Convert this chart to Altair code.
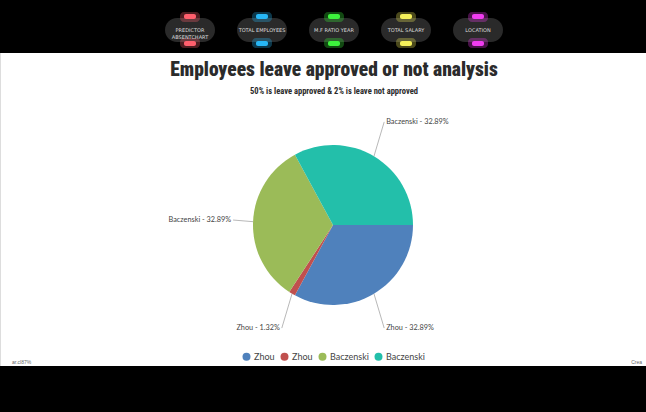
import math
import altair as alt
import pandas as pd

TITLE = "Employees leave approved or not analysis"
SUBTITLE = "50% is leave approved & 2% is leave not approved"

NAMES = ["Zhou", "Zhou", "Baczenski", "Baczenski"]
PERCENTS = [32.89, 1.32, 32.89, 32.89]
COLORS = ["#4F81BC", "#C0504E", "#9BBB58", "#23BFAA"]

BUTTON_LABELS = ["PREDICTOR\nABSENTCHART", "TOTAL EMPLOYEES", "M.F RATIO YEAR", "TOTAL SALARY", "LOCATION"]
BUTTON_COLORS = ["#ff5f6d", "#27b6f5", "#3df23d", "#f5f05a", "#f03cf0"]

FOOT_LEFT = "ar.cl87%"
FOOT_RIGHT = "Crea"

W, H = 646, 412
CX, CY, R = 333, 225, 80
RX, RY = 100, 120

keys = [f"{n}|{i}" for i, n in enumerate(NAMES)]
pie_df = pd.DataFrame({
    "key": keys,
    "name": NAMES,
    "pct": PERCENTS,
    "idx": list(range(len(NAMES))),
})
pie_df["label"] = [f"{n} - {p:.2f}%" for n, p in zip(NAMES, PERCENTS)]

one = pd.DataFrame({"a": [0]})

top_band = alt.Chart(one).mark_rect(color="black").encode(
    x=alt.value(0), x2=alt.value(W), y=alt.value(0), y2=alt.value(53))
bottom_band = alt.Chart(one).mark_rect(color="black").encode(
    x=alt.value(0), x2=alt.value(W), y=alt.value(366), y2=alt.value(H))

btn_df = pd.DataFrame({"label": BUTTON_LABELS, "col": BUTTON_COLORS, "i": list(range(len(BUTTON_LABELS)))})
btn = alt.Chart(btn_df).transform_calculate(bx="190 + 72*datum.i").transform_calculate(
    p0="datum.bx - 25", p1="datum.bx + 25",
    g0="datum.bx - 6", g1="datum.bx + 6",
    h0="datum.bx - 10", h1="datum.bx + 10")
pill = btn.mark_rect(cornerRadius=12, color="#3c3c3c", opacity=0.7).encode(
    x=alt.X("p0:Q", scale=None), x2="p1:Q", y=alt.value(18), y2=alt.value(42))
glow_top_soft = btn.mark_rect(opacity=0.3, cornerRadius=4).encode(
    x=alt.X("h0:Q", scale=None), x2="h1:Q", y=alt.value(12), y2=alt.value(22),
    fill=alt.Fill("col:N", scale=None, legend=None))
glow_top = btn.mark_rect(cornerRadius=2).encode(
    x=alt.X("g0:Q", scale=None), x2="g1:Q", y=alt.value(14), y2=alt.value(19),
    fill=alt.Fill("col:N", scale=None, legend=None))
glow_bot_soft = btn.mark_rect(opacity=0.3, cornerRadius=4).encode(
    x=alt.X("h0:Q", scale=None), x2="h1:Q", y=alt.value(38), y2=alt.value(48),
    fill=alt.Fill("col:N", scale=None, legend=None))
glow_bot = btn.mark_rect(cornerRadius=2).encode(
    x=alt.X("g0:Q", scale=None), x2="g1:Q", y=alt.value(41), y2=alt.value(46),
    fill=alt.Fill("col:N", scale=None, legend=None))
btn_text = btn.mark_text(fontSize=5, color="#dddddd", lineBreak="\n", font="DejaVu Sans").encode(
    x=alt.X("bx:Q", scale=None), y=alt.value(30), text="label:N")

TFONT = "Liberation Sans Narrow, Roboto Condensed, Lato, sans-serif"
title = alt.Chart(one).mark_text(font=TFONT, fontWeight=900, fontSize=19.5, color="#2b2b2b").encode(
    x=alt.value(334), y=alt.value(70), text=alt.value(TITLE))
subtitle = alt.Chart(one).mark_text(font=TFONT, fontWeight="bold", fontSize=8.5, color="#2b2b2b").encode(
    x=alt.value(334), y=alt.value(91), text=alt.value(SUBTITLE))

color = alt.Color(
    "key:N",
    scale=alt.Scale(domain=keys, range=COLORS),
    legend=alt.Legend(
        orient="none", legendX=242, legendY=352, direction="horizontal", title=None,
        symbolType="circle", symbolSize=64, symbolStrokeWidth=0, labelOffset=3,
        labelFont="Lato", labelFontSize=9, labelColor="#444444", columnPadding=5,
        labelExpr="split(datum.label, '|')[0]"),
)

pie = alt.Chart(pie_df).mark_arc(radius=R).encode(
    theta=alt.Theta("pct:Q", stack=True,
                    scale=alt.Scale(range=[math.pi / 2, math.pi / 2 + 2 * math.pi])),
    color=color,
    order=alt.Order("idx:Q"),
    x=alt.value(CX), y=alt.value(CY),
)

base = alt.Chart(pie_df).transform_joinaggregate(total="sum(pct)").transform_window(
    cum="sum(pct)", sort=[alt.SortField("idx")], frame=[None, 0]
).transform_calculate(
    ang="PI/2 + 2*PI*(datum.cum - datum.pct/2)/datum.total"
).transform_calculate(
    sx=f"{CX} + {R}*sin(datum.ang)",
    sy=f"{CY} - {R}*cos(datum.ang)",
    ex=f"{CX} + {RX}*sin(datum.ang)",
    ey=f"{CY} - {RY}*cos(datum.ang)",
    side="sin(datum.ang) >= 0 ? 'R' : 'L'",
)

connectors = base.mark_rule(color="#9a9a9a", strokeWidth=0.7).encode(
    x=alt.X("sx:Q", scale=None), y=alt.Y("sy:Q", scale=None), x2="ex:Q", y2="ey:Q")
labels_r = base.transform_filter("datum.side == 'R'").mark_text(
    align="left", dx=2, fontSize=7.3, font="Lato", color="#444444").encode(
    x=alt.X("ex:Q", scale=None), y=alt.Y("ey:Q", scale=None), text="label:N")
labels_l = base.transform_filter("datum.side == 'L'").mark_text(
    align="right", dx=-2, fontSize=7.3, font="Lato", color="#444444").encode(
    x=alt.X("ex:Q", scale=None), y=alt.Y("ey:Q", scale=None), text="label:N")

foot_l = alt.Chart(one).mark_text(align="left", fontSize=5, color="#666666").encode(
    x=alt.value(12), y=alt.value(362), text=alt.value(FOOT_LEFT))
foot_r = alt.Chart(one).mark_text(align="right", fontSize=5, color="#666666").encode(
    x=alt.value(642), y=alt.value(362), text=alt.value(FOOT_RIGHT))

chart = alt.layer(
    top_band, bottom_band, pill, glow_top_soft, glow_bot_soft, glow_top, glow_bot, btn_text,
    title, subtitle, pie, connectors, labels_r, labels_l, foot_l, foot_r,
).properties(
    width=W, height=H, autosize=alt.AutoSizeParams(type="none"), padding=0,
).configure_view(stroke=None).configure(background="white")

chart.save("out.html", embed_options={"renderer": "svg", "actions": False})
